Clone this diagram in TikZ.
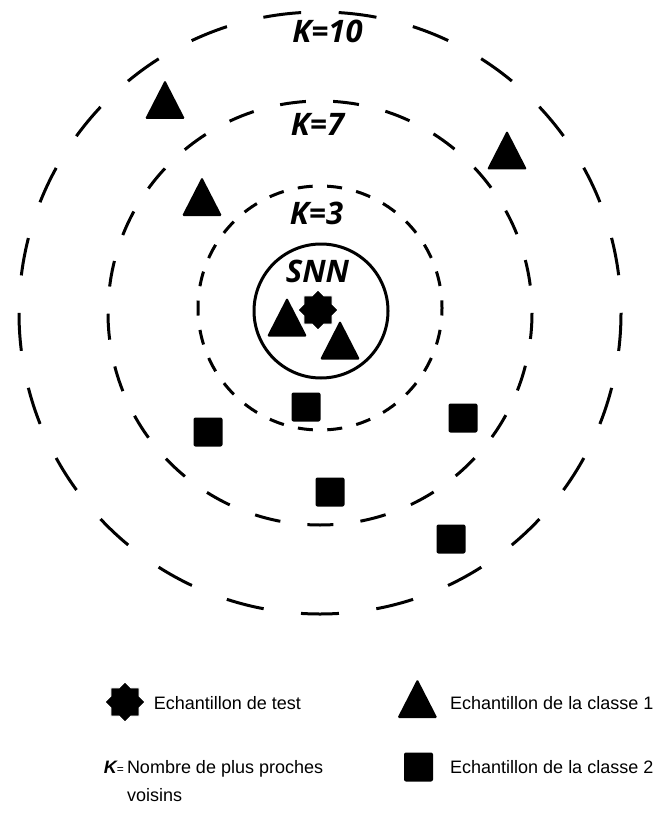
\documentclass[tikz,border=0pt]{standalone}
\usepackage{fontspec}
\setmainfont{Liberation Sans}
\newfontfamily\klabelfont{Open Sans}
\usetikzlibrary{shapes.geometric}

\begin{document}
\begin{tikzpicture}[x=1pt,y=-1pt,
  kcircle/.style={line width=3pt},
  klabel/.style={font=\klabelfont\bfseries\itshape\fontsize{31}{31}\selectfont,inner sep=0pt,anchor=base},
  legendtext/.style={font=\fontsize{18}{22}\selectfont,inner sep=0pt,anchor=base west},
  classtwo/.style={fill=black,minimum size=29pt,inner sep=0pt,rounded corners=2pt},
  testsample/.style={star,star points=8,star point ratio=1.3,minimum size=40pt,inner sep=0pt,fill=black,draw=white,line width=1pt},
  classone/.pic={\fill[rounded corners=1.5pt] (0,-19.5) -- (20,19.5) -- (-20,19.5) -- cycle;}]
\useasboundingbox (0,0) rectangle (658,813);

\coordinate (C10) at (320,313);
\coordinate (C7) at (320,313);
\coordinate (C3) at (320,308);
\coordinate (Csnn) at (321,311);

\draw[kcircle,dash pattern=on 38pt off 37.65pt] (C10) circle (301);
\draw[kcircle,dash pattern=on 26pt off 27.28pt] (C7) circle (212);
\draw[kcircle,dash pattern=on 15pt off 14.48pt,dash phase=7.5pt] (C3) circle (122);
\draw[kcircle] (Csnn) circle (67);

\node[klabel] (k10) at (327.5,43) {K=10};
\node[klabel] (k7) at (317.5,136) {K=7};
\node[klabel] (k3) at (316.5,224) {K=3};
\node[klabel] (snn) at (317.5,282) {SNN};

\pic (tri1) at (165,99.5) {classone};
\pic (tri2) at (202,196.5) {classone};
\pic (tri3) at (507,150) {classone};
\pic (tri4) at (287,317) {classone};
\pic (tri5) at (340,340) {classone};

\node[testsample] (test) at (318,310) {};

\node[classtwo] (sq1) at (306,407) {};
\node[classtwo] (sq2) at (208,432) {};
\node[classtwo] (sq3) at (463,418) {};
\node[classtwo] (sq4) at (330,492) {};
\node[classtwo] (sq5) at (451,539) {};

\node[testsample] (legtest) at (125,702) {};
\node[legendtext] (legtesttxt) at (153.6,709) {Echantillon de test};
\pic (legone) at (417.4,698.5) {classone};
\node[legendtext] (legonetxt) at (450,709) {Echantillon de la classe 1};
\node[legendtext] (legk) at (103.6,773) {\bfseries\itshape K{\mdseries\upshape\fontsize{12}{12}\selectfont =}};
\node[legendtext] (legktxt) at (126.8,773) {Nombre de plus proches};
\node[legendtext] (legktxtb) at (126.8,801) {voisins};
\node[classtwo] (legtwo) at (418.5,767) {};
\node[legendtext] (legtwotxt) at (450,773) {Echantillon de la classe 2};
\end{tikzpicture}
\end{document}
